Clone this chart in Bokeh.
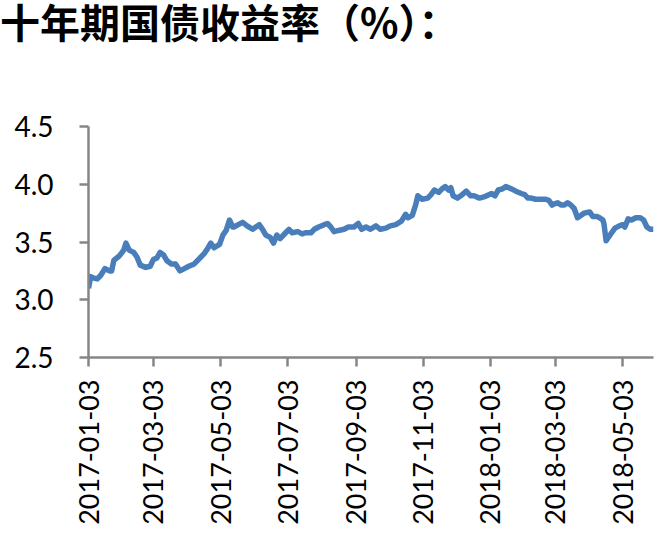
import math
import pandas as pd
from bokeh.plotting import figure
from bokeh.layouts import column
from bokeh.models import Range1d, FixedTicker, DatetimeTickFormatter, NumeralTickFormatter, Div
from bokeh.embed import file_html
from bokeh.resources import INLINE

title_text = "十年期国债收益率（%）："

dates = [
    "2017-01-03", "2017-01-05", "2017-01-07", "2017-01-11", "2017-01-14", "2017-01-18",
    "2017-01-22", "2017-01-24", "2017-01-26", "2017-01-31", "2017-02-04", "2017-02-06",
    "2017-02-09", "2017-02-13", "2017-02-16", "2017-02-19", "2017-02-24", "2017-02-28",
    "2017-03-03", "2017-03-06", "2017-03-09", "2017-03-12", "2017-03-15", "2017-03-19",
    "2017-03-23", "2017-03-27", "2017-03-31", "2017-04-04", "2017-04-09", "2017-04-13",
    "2017-04-18", "2017-04-21", "2017-04-24", "2017-04-27", "2017-05-02", "2017-05-05",
    "2017-05-08", "2017-05-11", "2017-05-14", "2017-05-15", "2017-05-19", "2017-05-23",
    "2017-05-27", "2017-06-01", "2017-06-04", "2017-06-07", "2017-06-10", "2017-06-13",
    "2017-06-17", "2017-06-20", "2017-06-23", "2017-06-26", "2017-07-01", "2017-07-04",
    "2017-07-07", "2017-07-12", "2017-07-16", "2017-07-19", "2017-07-24", "2017-07-27",
    "2017-07-31", "2017-08-05", "2017-08-08", "2017-08-11", "2017-08-14", "2017-08-18",
    "2017-08-23", "2017-08-27", "2017-09-01", "2017-09-05", "2017-09-08", "2017-09-12",
    "2017-09-16", "2017-09-21", "2017-09-25", "2017-09-30", "2017-10-04", "2017-10-09",
    "2017-10-14", "2017-10-18", "2017-10-20", "2017-10-24", "2017-10-27", "2017-10-29",
    "2017-11-02", "2017-11-07", "2017-11-10", "2017-11-13", "2017-11-17", "2017-11-20",
    "2017-11-23", "2017-11-26", "2017-11-28", "2017-11-30", "2017-12-04", "2017-12-07",
    "2017-12-12", "2017-12-16", "2017-12-19", "2017-12-24", "2017-12-28", "2018-01-04",
    "2018-01-07", "2018-01-10", "2018-01-14", "2018-01-17", "2018-01-22", "2018-01-26",
    "2018-01-31", "2018-02-03", "2018-02-06", "2018-02-09", "2018-02-13", "2018-02-18",
    "2018-02-22", "2018-02-25", "2018-02-28", "2018-03-02", "2018-03-05", "2018-03-08",
    "2018-03-11", "2018-03-14", "2018-03-17", "2018-03-20", "2018-03-23", "2018-03-26",
    "2018-03-29", "2018-04-03", "2018-04-06", "2018-04-10", "2018-04-12", "2018-04-15",
    "2018-04-16", "2018-04-18", "2018-04-20", "2018-04-23", "2018-04-26", "2018-04-30",
    "2018-05-03", "2018-05-05", "2018-05-08", "2018-05-11", "2018-05-15", "2018-05-19",
    "2018-05-22", "2018-05-25", "2018-05-28", "2018-05-31",
]

yields = [
    3.10, 3.20, 3.19, 3.18, 3.21, 3.27,
    3.25, 3.25, 3.34, 3.38, 3.43, 3.49,
    3.43, 3.41, 3.37, 3.30, 3.28, 3.29,
    3.35, 3.36, 3.41, 3.39, 3.34, 3.31,
    3.31, 3.25, 3.27, 3.29, 3.31, 3.35,
    3.40, 3.44, 3.49, 3.45, 3.48, 3.56,
    3.60, 3.69, 3.63, 3.63, 3.65, 3.67,
    3.64, 3.61, 3.63, 3.65, 3.61, 3.56,
    3.54, 3.49, 3.56, 3.53, 3.58, 3.61,
    3.58, 3.59, 3.57, 3.58, 3.58, 3.61,
    3.63, 3.65, 3.66, 3.63, 3.59, 3.60,
    3.61, 3.63, 3.63, 3.66, 3.61, 3.63,
    3.61, 3.64, 3.61, 3.62, 3.64, 3.65,
    3.68, 3.74, 3.71, 3.73, 3.82, 3.90,
    3.87, 3.88, 3.91, 3.95, 3.93, 3.96,
    3.98, 3.95, 3.97, 3.90, 3.88, 3.90,
    3.94, 3.90, 3.90, 3.88, 3.89, 3.92,
    3.90, 3.95, 3.96, 3.98, 3.96, 3.94,
    3.92, 3.91, 3.88, 3.88, 3.87, 3.87,
    3.87, 3.86, 3.82, 3.83, 3.84, 3.82,
    3.82, 3.84, 3.82, 3.79, 3.71, 3.73,
    3.75, 3.76, 3.72, 3.72, 3.71, 3.69,
    3.66, 3.51, 3.54, 3.58, 3.62, 3.64,
    3.65, 3.63, 3.70, 3.69, 3.71, 3.71,
    3.69, 3.63, 3.61, 3.61,
]

x_tick_labels = [
    "2017-01-03", "2017-03-03", "2017-05-03", "2017-07-03", "2017-09-03",
    "2017-11-03", "2018-01-03", "2018-03-03", "2018-05-03",
]
y_ticks = [2.5, 3.0, 3.5, 4.0, 4.5]
x_start, x_end = "2017-01-03", "2018-05-31"

x = pd.to_datetime(dates)
tick_ms = [pd.Timestamp(s).value // 10**6 for s in x_tick_labels]

W, H = 658, 535
DIV_H = 50
B_LEFT, B_RIGHT, B_TOP, B_BOTTOM = 88, 5, 126 - DIV_H, 178

title_div = Div(
    text=title_text, width=W, height=DIV_H,
    styles={
        "font-family": "'Noto Sans CJK SC', sans-serif",
        "font-size": "40px",
        "font-weight": "bold",
        "line-height": "42px",
        "color": "black",
        "margin": "0",
        "padding": "0",
        "white-space": "nowrap",
    },
)

p = figure(
    width=W, height=H - DIV_H,
    x_axis_type="datetime",
    x_range=Range1d(pd.Timestamp(x_start), pd.Timestamp(x_end)),
    y_range=Range1d(y_ticks[0], y_ticks[-1]),
    output_backend="svg", toolbar_location=None,
    min_border_left=B_LEFT, min_border_right=B_RIGHT,
    min_border_top=B_TOP, min_border_bottom=B_BOTTOM,
)
p.outline_line_color = None
p.xgrid.visible = False
p.ygrid.visible = False
p.background_fill_color = "white"

p.line(x, yields, line_color="#4A7EBB", line_width=5.5, line_join="round")

axis_gray = "#868686"
for ax in (p.xaxis[0], p.yaxis[0]):
    ax.axis_line_color = axis_gray
    ax.axis_line_width = 2.5
    ax.major_tick_line_color = axis_gray
    ax.major_tick_line_width = 2.5
    ax.major_tick_in = 0
    ax.major_tick_out = 9
    ax.minor_tick_line_color = None
    ax.major_label_text_font = "Lato"
    ax.major_label_text_color = "black"

p.xaxis.ticker = FixedTicker(ticks=tick_ms)
fmt = "%Y-%m-%d"
p.xaxis.formatter = DatetimeTickFormatter(
    milliseconds=fmt, seconds=fmt, minsec=fmt, minutes=fmt, hourmin=fmt,
    hours=fmt, days=fmt, months=fmt, years=fmt,
)
p.xaxis.major_label_orientation = math.pi / 2
p.xaxis.major_label_standoff = 13
p.xaxis.major_label_text_font_size = "27px"

p.yaxis.ticker = FixedTicker(ticks=y_ticks)
p.yaxis.formatter = NumeralTickFormatter(format="0.0")
p.yaxis.major_label_standoff = 26
p.yaxis.major_label_text_font_size = "28px"

layout = column(title_div, p, spacing=0)
open("out.html", "w").write(file_html(layout, INLINE))
